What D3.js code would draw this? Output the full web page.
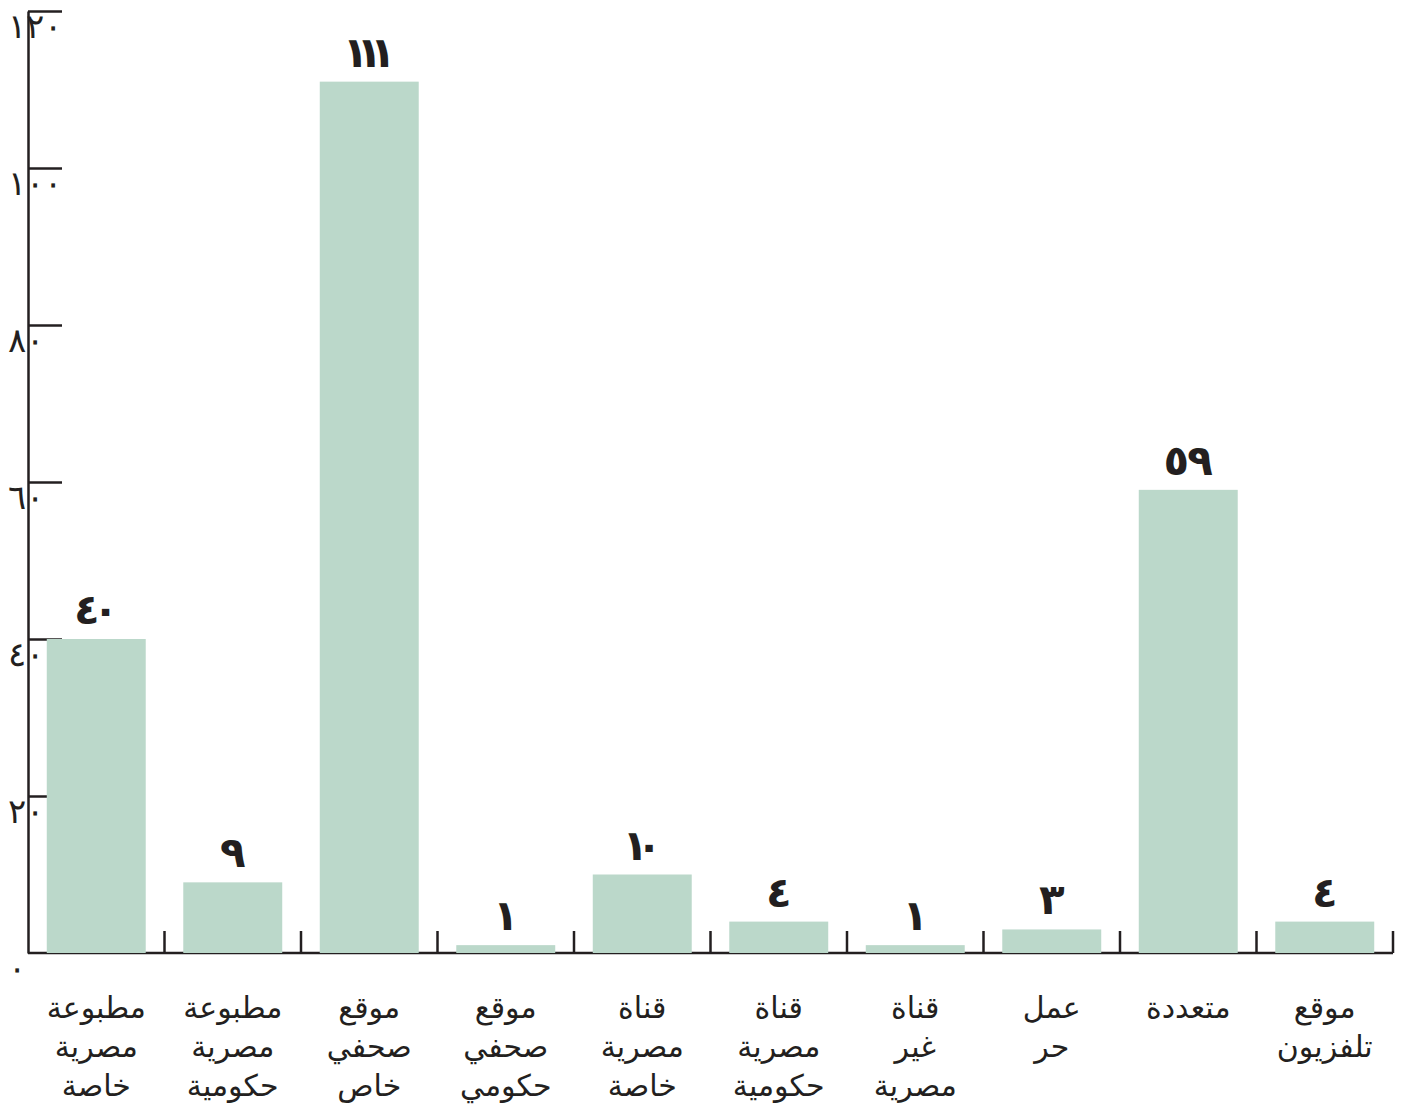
<!DOCTYPE html>
<html>
<head>
<meta charset="utf-8">
<script src="https://cdn.jsdelivr.net/npm/d3@7"></script>
<style>
  html, body { margin: 0; padding: 0; background: #ffffff; }
  svg { display: block; }
</style>
</head>
<body>
<svg id="chart" width="1411" height="1108"></svg>
<script>
// Categories (each label split into its display lines)
const categories = [
  ["مطبوعة", "مصرية", "خاصة"],
  ["مطبوعة", "مصرية", "حكومية"],
  ["موقع", "صحفي", "خاص"],
  ["موقع", "صحفي", "حكومي"],
  ["قناة", "مصرية", "خاصة"],
  ["قناة", "مصرية", "حكومية"],
  ["قناة", "غير", "مصرية"],
  ["عمل", "حر"],
  ["متعددة"],
  ["موقع", "تلفزيون"]
];
const values = [40, 9, 111, 1, 10, 4, 1, 3, 59, 4];
const yTicks = [0, 20, 40, 60, 80, 100, 120];
const yTickLabels = ["٠", "٢٠", "٤٠", "٦٠", "٨٠", "١٠٠", "١٢٠"];

const ink = "#231f20";
const barColor = "#bbd8ca";
const arabicDigits = "٠١٢٣٤٥٦٧٨٩";
const toArabic = n => String(n).replace(/[0-9]/g, d => arabicDigits[+d]);

const svg = d3.select("#chart");
const plotLeft = 28, plotRight = 1393, plotTop = 11, plotBottom = 953;

const keys = categories.map((c, i) => i);
const x = d3.scaleBand()
  .domain(keys)
  .range([plotLeft, plotRight])
  .paddingInner(0.275)
  .paddingOuter(0.1375);

const y = d3.scaleLinear().domain([0, 120]).range([plotBottom, plotTop]);

// Y axis: spine plus short ticks pointing right (drawn under the bars)
const yAxis = svg.append("g")
  .attr("transform", `translate(${plotLeft},0)`)
  .call(d3.axisRight(y).tickValues(yTicks.slice(1)).tickSize(34).tickSizeOuter(0).tickFormat(""));
yAxis.select(".domain").attr("stroke", ink).attr("stroke-width", 2.5);
yAxis.selectAll(".tick line").attr("stroke", ink).attr("stroke-width", 2.5);

// Y tick labels sit just below each tick, starting left of the spine
svg.append("g").selectAll("text")
  .data(yTicks)
  .join("text")
  .attr("x", 8)
  .attr("y", d => y(d) + 27)
  .attr("text-anchor", "start")
  .attr("font-family", "DejaVu Sans")
  .attr("font-weight", 200)
  .attr("font-size", 34)
  .attr("fill", ink)
  .attr("direction", "ltr")
  .text((d, i) => yTickLabels[i]);

// Baseline and category separators
const step = x.step();
svg.append("line")
  .attr("x1", plotLeft).attr("x2", plotRight)
  .attr("y1", plotBottom).attr("y2", plotBottom)
  .attr("stroke", ink).attr("stroke-width", 2.5);
svg.append("g").selectAll("line")
  .data(keys)
  .join("line")
  .attr("x1", d => x(d) + x.bandwidth() + (step - x.bandwidth()) / 2)
  .attr("x2", d => x(d) + x.bandwidth() + (step - x.bandwidth()) / 2)
  .attr("y1", plotBottom)
  .attr("y2", plotBottom - 22)
  .attr("stroke", ink).attr("stroke-width", 2.5);

// Bars
svg.append("g").selectAll("rect")
  .data(values)
  .join("rect")
  .attr("x", (d, i) => x(i))
  .attr("width", x.bandwidth())
  .attr("y", d => y(d))
  .attr("height", d => y(0) - y(d))
  .attr("fill", barColor);

// Value labels, with the digit spacing tightened (the "١" glyph is narrow)
const gapCut = (a, b) => (a === "١" || b === "١") ? 12 : (b === "٠" ? 7 : 2);
svg.append("g").selectAll("text")
  .data(values)
  .join("text")
  .attr("x", (d, i) => x(i) + x.bandwidth() / 2)
  .attr("y", d => y(d) - 15)
  .attr("text-anchor", "middle")
  .attr("font-family", "DejaVu Sans")
  .attr("font-weight", "bold")
  .attr("font-size", 42)
  .attr("fill", ink)
  .attr("direction", "ltr")
  .text(d => toArabic(d))
  .each(function(d) {
    const chars = Array.from(toArabic(d));
    if (chars.length < 2) return;
    let cut = 0;
    for (let j = 1; j < chars.length; j++) cut += gapCut(chars[j - 1], chars[j]);
    const len = this.getComputedTextLength();
    d3.select(this).attr("textLength", len - cut).attr("lengthAdjust", "spacing");
  });

// Category labels, one tspan per line
const catText = svg.append("g").selectAll("text")
  .data(categories)
  .join("text")
  .attr("text-anchor", "middle")
  .attr("font-family", "DejaVu Sans")
  .attr("font-size", 30)
  .attr("fill", ink)
  .attr("direction", "rtl");
catText.selectAll("tspan")
  .data((d, i) => d.map(line => ({ line, i })))
  .join("tspan")
  .attr("x", d => x(d.i) + x.bandwidth() / 2)
  .attr("y", (d, j) => 1018 + j * 39)
  .text(d => d.line);
</script>
</body>
</html>
